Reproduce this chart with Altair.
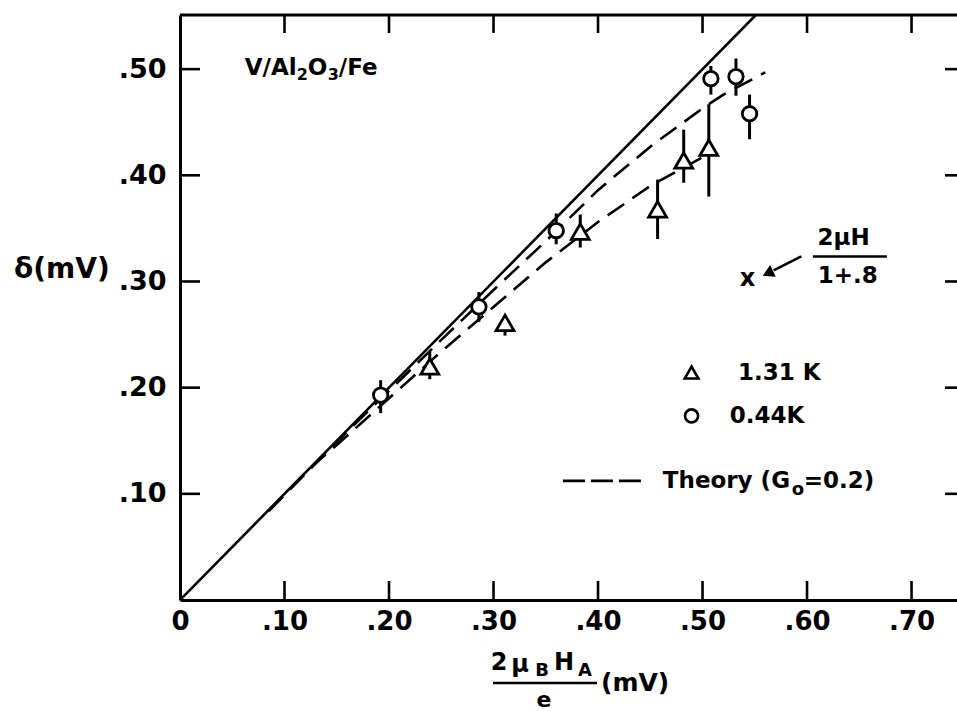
import altair as alt
import pandas as pd

# ---------------- data ----------------
# 0.44 K  (open circles)
circ_x = [0.192, 0.286, 0.360, 0.508, 0.532, 0.545]
circ_y = [0.193, 0.276, 0.348, 0.491, 0.493, 0.458]
circ_lo = [0.176, 0.262, 0.335, 0.476, 0.475, 0.434]
circ_hi = [0.207, 0.290, 0.364, 0.503, 0.510, 0.476]

# 1.31 K  (open triangles)
tri_x = [0.239, 0.311, 0.383, 0.457, 0.482, 0.506]
tri_y = [0.220, 0.261, 0.347, 0.368, 0.414, 0.426]
tri_lo = [0.208, 0.249, 0.332, 0.340, 0.393, 0.380]
tri_hi = [0.234, 0.268, 0.363, 0.396, 0.443, 0.467]

# solid line delta = 2 muB HA / e
solid_x = [0.0, 0.551]
solid_y = [0.0, 0.551]

# theory curves (G0 = 0.2)
th_low_T_x = [0.085, 0.15, 0.20, 0.25, 0.30, 0.35, 0.40, 0.45, 0.50, 0.52, 0.56]
th_low_T_y = [0.084, 0.149, 0.197, 0.245, 0.292, 0.338, 0.386, 0.427, 0.463, 0.476, 0.497]
th_high_T_x = [0.085, 0.13, 0.15, 0.20, 0.25, 0.30, 0.35, 0.40, 0.45, 0.50]
th_high_T_y = [0.084, 0.129, 0.146, 0.190, 0.234, 0.276, 0.318, 0.356, 0.390, 0.417]

# the "x" point 2 mu H / (1 + .8)
xpt_x = [0.543]
xpt_y = [0.302]

x_ticks = [0.0, 0.1, 0.2, 0.3, 0.4, 0.5, 0.6, 0.7]
y_ticks = [0.1, 0.2, 0.3, 0.4, 0.5]

# ---------------- layout ----------------
W, H = 777, 585
XMAX, YMAX = 0.7435, 0.551
FONT = "DejaVu Sans"
FW = "bold"

xs = alt.Scale(domain=[0, XMAX], nice=False, zero=False)
ys = alt.Scale(domain=[0, YMAX], nice=False, zero=False)

circ_df = pd.DataFrame({"x": circ_x, "y": circ_y, "lo": circ_lo, "hi": circ_hi})
tri_df = pd.DataFrame({"x": tri_x, "y": tri_y, "lo": tri_lo, "hi": tri_hi})
solid_df = pd.DataFrame({"x": solid_x, "y": solid_y})
theory_df = pd.concat([
    pd.DataFrame({"x": th_low_T_x, "y": th_low_T_y, "s": "0.44K"}),
    pd.DataFrame({"x": th_high_T_x, "y": th_high_T_y, "s": "1.31K"}),
])

lab_x = "datum.value == 0 ? '0' : replace(format(datum.value, '.2f'), '0.', '.')"
lab_y = "replace(format(datum.value, '.2f'), '0.', '.')"

X = lambda f="x": alt.X(f, type="quantitative", scale=xs)
Y = lambda f="y": alt.Y(f, type="quantitative", scale=ys)

solid = alt.Chart(solid_df).mark_line(color="black", strokeWidth=2.6, clip=True).encode(
    x=alt.X("x:Q", scale=xs, title=None,
            axis=alt.Axis(values=x_ticks, labelExpr=lab_x, ticks=False, grid=False,
                          domainColor="black", domainWidth=3, labelColor="black",
                          labelFont=FONT, labelFontWeight=FW, labelFontSize=26,
                          labelPadding=8, labelFlush=False, labelOverlap=False)),
    y=alt.Y("y:Q", scale=ys, title=None,
            axis=alt.Axis(values=y_ticks, labelExpr=lab_y, ticks=False, grid=False,
                          domainColor="black", domainWidth=3, labelColor="black",
                          labelFont=FONT, labelFontWeight=FW, labelFontSize=27,
                          labelPadding=14, labelFlush=False, labelOverlap=False)),
)

theory = alt.Chart(theory_df).mark_line(color="black", strokeWidth=2.6,
                                        strokeDash=[20, 10]).encode(
    x=X(), y=Y(), detail="s:N")

def errbars(df):
    return alt.Chart(df).mark_rule(color="black", strokeWidth=3).encode(
        x=X(), y=Y("lo"), y2="hi")

circ_err = errbars(circ_df)
tri_err = errbars(tri_df)
circ_pts = alt.Chart(circ_df).mark_point(shape="circle", filled=True, fill="white",
                                         stroke="black", strokeWidth=2.8, size=210,
                                         opacity=1).encode(x=X(), y=Y())
tri_pts = alt.Chart(tri_df).mark_point(shape="triangle-up", filled=True, fill="white",
                                       stroke="black", strokeWidth=2.8, size=320,
                                       opacity=1).encode(x=X(), y=Y())

# frame and inward ticks
xt_df = pd.DataFrame({"x": x_ticks[1:]})
yt_df = pd.DataFrame({"y": y_ticks})
bot_ticks = alt.Chart(xt_df).mark_rule(color="black", strokeWidth=2.6).encode(
    x=X(), y=alt.value(H), y2=alt.value(H - 19))
top_ticks = alt.Chart(xt_df).mark_rule(color="black", strokeWidth=2.6).encode(
    x=X(), y=alt.value(0), y2=alt.value(18))
left_ticks = alt.Chart(yt_df).mark_rule(color="black", strokeWidth=2.6).encode(
    y=Y(), x=alt.value(0), x2=alt.value(20))
right_ticks = alt.Chart(yt_df).mark_rule(color="black", strokeWidth=2.6).encode(
    y=Y(), x=alt.value(W - 12), x2=alt.value(W))
top_line = alt.Chart(pd.DataFrame({"a": [0]})).mark_rule(color="black", strokeWidth=3).encode(
    x=alt.value(0), x2=alt.value(W), y=alt.value(0))

# annotations in the plot
def txt(s, x, y, size=22, align="left", dx=0, dy=0):
    return alt.Chart(pd.DataFrame({"t": [s], "x": [x], "y": [y]})).mark_text(
        font=FONT, fontWeight=FW, fontSize=size, align=align, baseline="middle",
        color="black", dx=dx, dy=dy
    ).encode(x=X(), y=Y(), text="t:N")

SX, SY = 0.062, 0.501
sample = [
    txt("V/Al", SX, SY, size=23),
    txt("2", SX, SY, size=16, dx=52, dy=7),
    txt("O", SX, SY, size=23, dx=63),
    txt("3", SX, SY, size=16, dx=83, dy=7),
    txt("/Fe", SX, SY, size=23, dx=94),
]

xpt = alt.Chart(pd.DataFrame({"x": xpt_x, "y": xpt_y})).mark_text(
    text="x", font=FONT, fontWeight=FW, fontSize=24, baseline="middle", align="center",
    color="black"
).encode(x=X(), y=Y())

arrow_df = pd.DataFrame({"x": [0.5945, 0.568], "y": [0.3236, 0.3105]})
arrow = alt.Chart(arrow_df).mark_line(color="black", strokeWidth=2.6).encode(x=X(), y=Y())
arrow_head = alt.Chart(pd.DataFrame({"x": [0.5625], "y": [0.3077]})).mark_point(
    shape="triangle-up", filled=True, color="black", size=170, angle=244, opacity=1
).encode(x=X(), y=Y())

frac_num = txt("2μH", 0.635, 0.341, size=23, align="center")
frac_bar = alt.Chart(pd.DataFrame({"x": [0.6056], "x2": [0.6764], "y": [0.3236]})).mark_rule(
    color="black", strokeWidth=2.4).encode(x=X(), x2="x2", y=Y())
frac_den = txt("1+.8", 0.639, 0.3055, size=23, align="center")

# legend (drawn in the plot like the original)
leg_tri = alt.Chart(pd.DataFrame({"x": [0.4895], "y": [0.2142]})).mark_point(
    shape="triangle-up", filled=True, fill="white", stroke="black", strokeWidth=2.6,
    size=190, opacity=1).encode(x=X(), y=Y())
leg_circ = alt.Chart(pd.DataFrame({"x": [0.4895], "y": [0.1734]})).mark_point(
    shape="circle", filled=True, fill="white", stroke="black", strokeWidth=2.6,
    size=170, opacity=1).encode(x=X(), y=Y())
leg_t1 = txt("1.31 K", 0.534, 0.2142, size=23)
leg_t2 = txt("0.44K", 0.526, 0.1734, size=23)
leg_dash = alt.Chart(pd.DataFrame({"x": [0.3664, 0.442], "y": [0.1122, 0.1122]})).mark_line(
    color="black", strokeWidth=2.8, strokeDash=[22, 6]).encode(x=X(), y=Y())
LX, LY = 0.462, 0.1122
leg_t3 = [
    txt("Theory (G", LX, LY, size=23),
    txt("o", LX, LY, size=18, dx=129, dy=9),
    txt("=0.2)", LX, LY, size=23, dx=141),
]

# axis titles (outside the plot area)
def ptxt(s, px, py, size=24, align="left"):
    return alt.Chart(pd.DataFrame({"t": [s]})).mark_text(
        font=FONT, fontWeight=FW, fontSize=size, align=align, baseline="middle",
        color="black"
    ).encode(text="t:N", x=alt.value(px), y=alt.value(py))

ytitle = ptxt("δ(mV)", -166, 255, size=28)
xtitle = [
    ptxt("2", 319, 648, size=24, align="center"),
    ptxt("μ", 340, 650, size=24, align="center"),
    ptxt("B", 362, 656, size=18, align="center"),
    ptxt("H", 384, 648, size=24, align="center"),
    ptxt("A", 405, 656, size=18, align="center"),
    ptxt("e", 364, 685, size=22, align="center"),
    ptxt("(mV)", 421, 668, size=25),
]
xt_bar = alt.Chart(pd.DataFrame({"a": [0]})).mark_rule(color="black", strokeWidth=2.6).encode(
    x=alt.value(313), x2=alt.value(417), y=alt.value(668))

chart = alt.layer(
    solid, theory, circ_err, tri_err, circ_pts, tri_pts,
    bot_ticks, top_ticks, left_ticks, right_ticks, top_line,
    *sample, xpt, arrow, arrow_head, frac_num, frac_bar, frac_den,
    leg_tri, leg_circ, leg_t1, leg_t2, leg_dash, *leg_t3,
    ytitle, *xtitle, xt_bar,
).properties(
    width=W, height=H,
    autosize=alt.AutoSizeParams(type="none"),
    padding={"left": 180, "top": 15, "right": 0, "bottom": 711 - 15 - H},
    background="white",
).configure_view(stroke=None)

chart.save("out.html", embed_options={"renderer": "svg", "actions": False})
